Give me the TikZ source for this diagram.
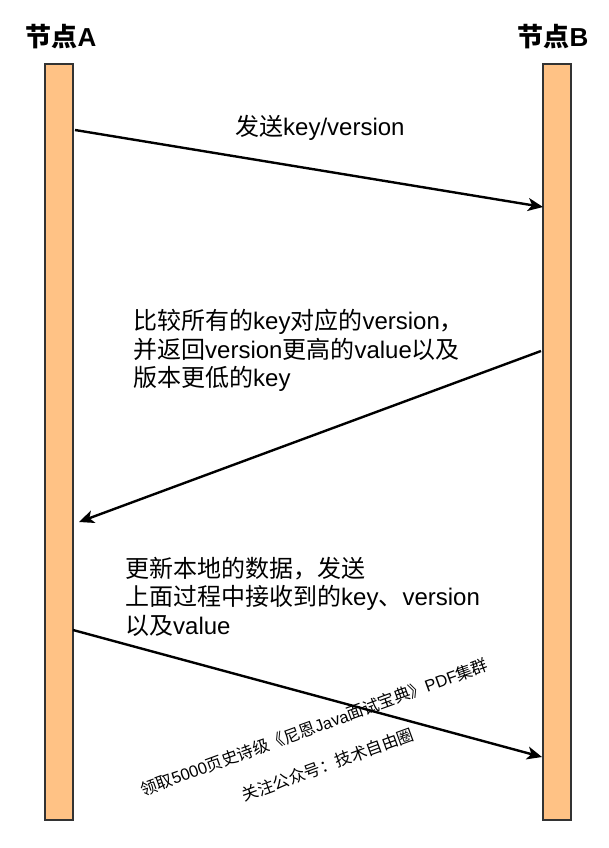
\documentclass[tikz,border=0pt]{standalone}
\usepackage{fontspec}
\setmainfont{Liberation Sans}
\newfontfamily\cjk{Noto Sans CJK SC}
\usetikzlibrary{arrows.meta}
\definecolor{barfill}{HTML}{FFC285}
\definecolor{barline}{HTML}{333333}
\begin{document}
\begin{tikzpicture}[x=1pt,y=-1pt,
  lifeline/.style={draw=barline,line width=1.5pt,fill=barfill,inner sep=0pt,
    minimum width=28pt,minimum height=756pt},
  title/.style={inner sep=0pt,font=\fontsize{26}{30}\selectfont\bfseries},
  msg/.style={inner sep=0pt,align=left,font=\fontsize{24}{28.5}\selectfont},
  wm/.style={inner sep=0pt,align=center,font=\fontsize{16.5}{40}\selectfont},
  arr/.style={line width=2.4pt,-{Stealth[length=15pt,width=13pt,inset=4pt]}}]
\useasboundingbox[fill=white] (0,0) rectangle (608,848);
% lifelines
\node[lifeline] (barA) at (59,442) {};
\node[lifeline] (barB) at (557,442) {};
% titles
\node[title] (tA) at (61,37) {{\cjk 节点}A};
\node[title] (tB) at (553,37) {{\cjk 节点}B};
% connector ends
\coordinate (s1) at (75,130);
\coordinate (e1) at (543,207);
\coordinate (s2) at (541,351);
\coordinate (e2) at (79,522);
\coordinate (s3) at (73,630);
\coordinate (e3) at (542,757);
\draw[arr] (s1) -- (e1);
\draw[arr] (s2) -- (e2);
\draw[arr] (s3) -- (e3);
% messages
\node[msg,anchor=west] (m1) at (235,128) {{\cjk 发送}key/version};
\node[msg,anchor=north west] (m2) at (133,309)
  {{\cjk 比较所有的}key{\cjk 对应的}version{\cjk ，}\\
   {\cjk 并返回}version{\cjk 更高的}value{\cjk 以及}\\
   {\cjk 版本更低的}key};
\node[msg,anchor=north west] (m3) at (125,557)
  {{\cjk 更新本地的数据，发送}\\
   {\cjk 上面过程中接收到的}key{\cjk 、}version\\
   {\cjk 以及}value};
% watermark
\node[wm,rotate=20] (w) at (321,746)
  {{\cjk 领取}5000{\cjk 页史诗级《尼恩}Java{\cjk 面试宝典》}PDF{\cjk 集群}\\
   {\cjk 关注公众号：技术自由圈}};
\end{tikzpicture}
\end{document}
